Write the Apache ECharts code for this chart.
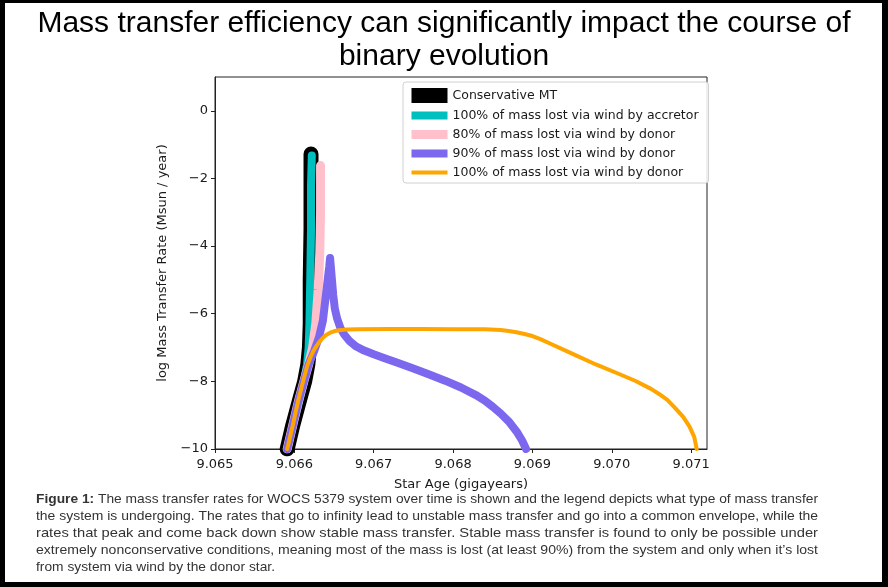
<!DOCTYPE html>
<html>
<head>
<meta charset="utf-8">
<script src="https://cdn.jsdelivr.net/npm/echarts@6/dist/echarts.min.js"></script>
<style>
html, body { margin: 0; padding: 0; background: #000; }
#chart { width: 888px; height: 587px; }
</style>
</head>
<body>
<div id="chart"></div>
<script>
// star age (Gyr) vs log mass transfer rate (Msun / yr)
var consMT = [[9.06591,-10],[9.06598,-9.3],[9.06606,-8.6],[9.06613,-8.0],[9.06617,-7.5],[9.06619,-7.0],[9.0662,-6.3],[9.0662,-5.0],[9.06621,-3.5],[9.06621,-2.2],[9.06621,-1.28]];
var accretorWind = [[9.06591,-10],[9.06598,-9.3],[9.06606,-8.6],[9.06612,-8.0],[9.06616,-7.5],[9.06618,-7.0],[9.06619,-6.3],[9.0662,-5.0],[9.06621,-3.5],[9.06621,-2.2],[9.06622,-1.32]];
var donor80 = [[9.06591,-10],[9.06598,-9.3],[9.06605,-8.6],[9.06612,-8.0],[9.06618,-7.5],[9.06623,-7.0],[9.06627,-6.3],[9.0663,-5.3],[9.06632,-4.2],[9.06633,-3.0],[9.06633,-1.62]];
var donor90 = [[9.06591,-10],[9.06598,-9.3],[9.06605,-8.6],[9.06612,-8.0],[9.06618,-7.5],[9.06625,-7.1],[9.06631,-6.7],[9.06636,-6.2],[9.06639,-5.6],[9.06642,-5.0],[9.06644,-4.6],[9.06645,-4.35],[9.06647,-4.9],[9.06649,-5.45],[9.06651,-5.85],[9.06654,-6.15],[9.06658,-6.42],[9.06663,-6.62],[9.0667,-6.82],[9.06678,-6.97],[9.06688,-7.09],[9.067,-7.2],[9.06712,-7.3],[9.0673,-7.45],[9.0675,-7.62],[9.0677,-7.8],[9.0679,-7.98],[9.0681,-8.18],[9.0683,-8.42],[9.0684,-8.57],[9.0685,-8.75],[9.0686,-8.95],[9.0687,-9.18],[9.0688,-9.48],[9.06887,-9.75],[9.06892,-10]];
var donor100 = [[9.06591,-10],[9.06598,-9.3],[9.06605,-8.55],[9.06611,-8.0],[9.06616,-7.55],[9.0662,-7.3],[9.06624,-7.1],[9.06628,-6.95],[9.06632,-6.82],[9.06636,-6.71],[9.0664,-6.63],[9.06645,-6.56],[9.0665,-6.52],[9.06656,-6.49],[9.06665,-6.47],[9.0668,-6.46],[9.0672,-6.45],[9.0676,-6.45],[9.068,-6.46],[9.0684,-6.46],[9.0686,-6.48],[9.0687,-6.51],[9.0688,-6.55],[9.0689,-6.6],[9.069,-6.66],[9.0691,-6.75],[9.0692,-6.86],[9.0695,-7.18],[9.0698,-7.5],[9.0701,-7.79],[9.0703,-7.99],[9.0705,-8.23],[9.0706,-8.38],[9.0707,-8.55],[9.0708,-8.79],[9.0709,-9.05],[9.07098,-9.34],[9.07104,-9.65],[9.07107,-10]];

var seriesNames = ['Conservative MT', '100% of mass lost via wind by accretor', '80% of mass lost via wind by donor', '90% of mass lost via wind by donor', '100% of mass lost via wind by donor'];
var seriesData = [consMT, accretorWind, donor80, donor90, donor100];
var xTicks = [9.065, 9.066, 9.067, 9.068, 9.069, 9.070, 9.071];
var yTicks = [-10, -8, -6, -4, -2, 0];

var titleText = 'Mass transfer efficiency can significantly impact the course of\nbinary evolution';
var captionLead = 'Figure 1:';
var captionLines = [
	' The mass transfer rates for WOCS 5379 system over time is shown and the legend depicts what type of mass transfer',
	'the system is undergoing. The rates that go to infinity lead to unstable mass transfer and go into a common envelope, while the',
	'rates that peak and come back down show stable mass transfer. Stable mass transfer is found to only be possible under',
	'extremely nonconservative conditions, meaning most of the mass is lost (at least 90%) from the system and only when it\u2019s lost',
	'from system via wind by the donor star.'
];

var lineColors = ['#000000', '#00bfbf', '#ffc0cb', '#7b68ee', '#ffa500'];
var lineWidths = [15, 8, 9, 8, 4];

var chart = echarts.init(document.getElementById('chart'));

// caption is justified in the original: stretch each line to the column width
var capFont = 'Liberation Sans Narrow, Liberation Sans, sans-serif';
var capSize = 13.5;
var capLeft = 36, capRight = 818, capTop = 492, capStep = 17;
var ctx = document.createElement('canvas').getContext('2d');
function textWidth(str, bold) {
	ctx.font = (bold ? 'bold ' : '') + capSize + 'px ' + capFont;
	return ctx.measureText(str).width;
}
var leadW = textWidth(captionLead, true);
var firstScale = (capRight - capLeft) / (leadW + textWidth(captionLines[0], false));
var graphics = [{
	type: 'rect', z: -10, silent: true,
	shape: { x: 5, y: 3, width: 877, height: 579 },
	style: { fill: '#fff' }
}];
for (var i = 0; i < captionLines.length; i++) {
	var sx;
	if (i == 0 || i == captionLines.length - 1) {
		sx = firstScale;
	} else {
		sx = (capRight - capLeft) / textWidth(captionLines[i], false);
	}
	var y = capTop + i * capStep;
	if (i == 0) {
		graphics.push({
			type: 'text', x: capLeft, y: y, scaleX: sx, silent: true,
			style: { text: captionLead, fontFamily: capFont, fontSize: capSize, fontWeight: 'bold', fill: '#333' }
		});
		graphics.push({
			type: 'text', x: capLeft + leadW * sx, y: y, scaleX: sx, silent: true,
			style: { text: captionLines[i], fontFamily: capFont, fontSize: capSize, fill: '#333' }
		});
	} else {
		graphics.push({
			type: 'text', x: capLeft, y: y, scaleX: sx, silent: true,
			style: { text: captionLines[i], fontFamily: capFont, fontSize: capSize, fill: '#333' }
		});
	}
}

var series = [];
var legendData = [];
for (var k = 0; k < seriesNames.length; k++) {
	series.push({
		name: seriesNames[k],
		type: 'line',
		data: seriesData[k],
		symbol: 'none',
		silent: true,
		animation: false,
		lineStyle: { color: lineColors[k], width: lineWidths[k], cap: 'round', join: 'round' },
		itemStyle: { color: lineColors[k] },
		z: 2 + k
	});
	legendData.push({
		name: seriesNames[k],
		lineStyle: { width: lineWidths[k], cap: 'butt' },
		itemStyle: { opacity: 0 }
	});
}

function minusFmt(v) {
	return v < 0 ? '\u2212' + Math.abs(v) : '' + v;
}

var option = {
	backgroundColor: '#000',
	animation: false,
	title: {
		text: titleText,
		left: 'center',
		top: 2,
		textStyle: { fontFamily: 'Liberation Sans', fontSize: 30, fontWeight: 'normal', color: '#000', lineHeight: 33 }
	},
	legend: {
		orient: 'vertical',
		left: 403,
		top: 82,
		data: legendData,
		itemWidth: 36,
		itemHeight: 14,
		itemGap: 6,
		padding: [6, 10, 4, 1],
		borderColor: '#d0d0d0',
		borderWidth: 1,
		borderRadius: 3,
		backgroundColor: 'rgba(255,255,255,0.85)',
		selectedMode: false,
		textStyle: { fontFamily: 'DejaVu Sans', fontSize: 12.5, color: '#1a1a1a' }
	},
	grid: {
		left: 215, right: 181, top: 77, bottom: 138,
		show: true, borderColor: '#222', borderWidth: 1, backgroundColor: 'transparent'
	},
	xAxis: {
		type: 'value',
		min: 9.065,
		max: 9.0712,
		name: 'Star Age (gigayears)',
		nameLocation: 'middle',
		nameGap: 29,
		nameTextStyle: { fontFamily: 'DejaVu Sans', fontSize: 13, color: '#1a1a1a' },
		axisLine: { onZero: false, lineStyle: { color: '#222' } },
		axisTick: { length: 4, customValues: xTicks, lineStyle: { color: '#222' } },
		axisLabel: {
			customValues: xTicks, margin: 9,
			fontFamily: 'DejaVu Sans', fontSize: 13, color: '#1a1a1a',
			formatter: function(v) { return v.toFixed(3); }
		},
		splitLine: { show: false }
	},
	yAxis: {
		type: 'value',
		min: -10,
		max: 1,
		name: 'log Mass Transfer Rate (Msun / year)',
		nameLocation: 'middle',
		nameGap: 46,
		nameTextStyle: { fontFamily: 'DejaVu Sans', fontSize: 13, color: '#1a1a1a' },
		axisLine: { show: true, onZero: false, lineStyle: { color: '#222' } },
		axisTick: { show: true, length: 4, customValues: yTicks, lineStyle: { color: '#222' } },
		axisLabel: {
			customValues: yTicks, margin: 7,
			fontFamily: 'DejaVu Sans', fontSize: 13, color: '#1a1a1a',
			formatter: minusFmt
		},
		splitLine: { show: false }
	},
	graphic: graphics,
	series: series
};
chart.setOption(option);
</script>
</body>
</html>
